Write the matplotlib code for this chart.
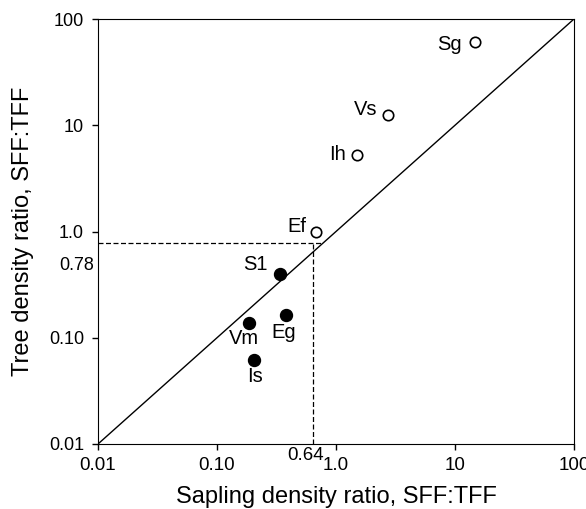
import matplotlib
matplotlib.use("Agg")
import matplotlib.pyplot as plt

plt.rcParams["font.family"] = ["Liberation Sans", "DejaVu Sans"]

# species codes and density ratios (SFF:TFF)
open_names = ["Sg", "Vs", "Ih", "Ef"]
open_x = [14.8, 2.72, 1.51, 0.68]
open_y = [61.0, 12.6, 5.2, 0.99]

filled_names = ["S1", "Eg", "Vm", "Is"]
filled_x = [0.337, 0.382, 0.186, 0.203]
filled_y = [0.40, 0.162, 0.138, 0.062]

# label offsets in points (dx, dy, ha)
label_pos = {
    "Sg": (-10, -2, "right"),
    "Vs": (-7.5, 4, "right"),
    "Ih": (-8.5, 1, "right"),
    "Ef": (-7, 4, "right"),
    "S1": (-8.5, 7, "right"),
    "Eg": (-2, -12.5, "center"),
    "Vm": (-4, -11, "center"),
    "Is": (1, -12, "center"),
}

ticks = [0.01, 0.1, 1.0, 10, 100]
tick_labels = ["0.01", "0.10", "1.0", "10", "100"]
x_cut, y_cut = 0.64, 0.78

fig = plt.figure(figsize=(5.86, 5.09), dpi=100)
ax = fig.add_axes([98 / 586, 1 - 444 / 509, 476 / 586, 425 / 509])
ax.set_xscale("log")
ax.set_yscale("log")
ax.set_xlim(0.01, 100)
ax.set_ylim(0.01, 100)

ax.plot([0.01, 100], [0.01, 100], color="black", lw=1.0)
ax.plot([0.01, 0.77], [y_cut, y_cut], color="black", lw=0.9, dashes=(4, 2))
ax.plot([x_cut, x_cut], [0.01, y_cut], color="black", lw=0.9, dashes=(4, 2))

ax.plot(open_x, open_y, "o", mfc="white", mec="black", mew=1.2, ms=7.5, ls="none")
ax.plot(filled_x, filled_y, "o", color="black", ms=8.6, ls="none")

for name, x, y in zip(open_names + filled_names, open_x + filled_x, open_y + filled_y):
    dx, dy, ha = label_pos[name]
    ax.annotate(name, (x, y), xytext=(dx, dy), textcoords="offset points",
                ha=ha, va="center", fontsize=14.5)

ax.set_xticks(ticks)
ax.set_xticklabels(tick_labels)
ax.set_yticks(ticks)
ax.set_yticklabels(tick_labels)
ax.minorticks_off()
ax.tick_params(direction="out", length=4, width=1)
ax.tick_params(axis="x", labelsize=13.5, pad=5)
ax.tick_params(axis="y", labelsize=13, pad=6)

# the 0.64 / 0.78 marks are written next to the axes, not as ticks
ax.annotate("0.64", (x_cut, 0), xycoords=ax.get_xaxis_transform(),
            xytext=(-5, -2), textcoords="offset points",
            ha="center", va="top", fontsize=13.5)
ax.text(-0.008, 0.419, "0.78", transform=ax.transAxes,
        ha="right", va="center", fontsize=13)

ax.set_xlabel("Sapling density ratio, SFF:TFF", fontsize=17)
ax.set_ylabel("Tree density ratio, SFF:TFF", fontsize=17)
ax.xaxis.set_label_coords(0.5, -0.099)
ax.yaxis.set_label_coords(-0.135, 0.5)

fig.savefig("out.png", dpi=100)
